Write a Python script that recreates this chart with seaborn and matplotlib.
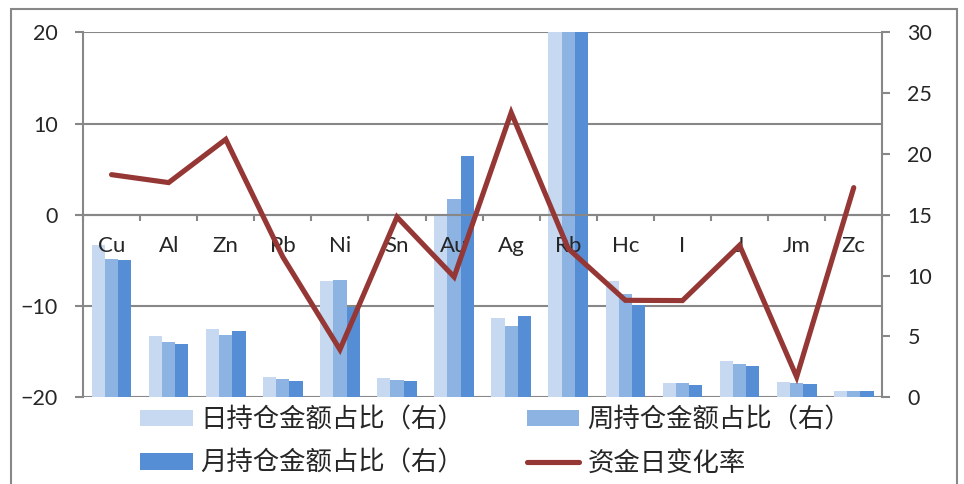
import numpy as np
import pandas as pd
import matplotlib
matplotlib.use("Agg")
import matplotlib.pyplot as plt
from matplotlib.patches import Patch, Rectangle
from matplotlib.lines import Line2D
import seaborn as sns

# ---- data ----
categories = ["Cu", "Al", "Zn", "Pb", "Ni", "Sn", "Au", "Ag", "Rb", "Hc", "I", "J", "Jm", "Zc"]
day_share = [12.55, 5.04, 5.64, 1.70, 9.53, 1.56, 14.95, 6.49, 32.0, 9.53, 1.20, 2.96, 1.26, 0.52]
week_share = [11.37, 4.55, 5.09, 1.48, 9.64, 1.40, 16.27, 5.83, 32.0, 8.52, 1.20, 2.71, 1.18, 0.49]
month_share = [11.26, 4.41, 5.45, 1.31, 7.42, 1.31, 19.83, 6.71, 32.0, 7.56, 1.04, 2.58, 1.10, 0.49]
flow_change = [4.40, 3.53, 8.27, -4.62, -14.77, -0.24, -6.81, 11.20, -3.71, -9.37, -9.40, -3.34, -17.77, 2.98]

series_names = ["日持仓金额占比（右）", "周持仓金额占比（右）", "月持仓金额占比（右）"]
line_name = "资金日变化率"
bar_colors = ["#C6D9F1", "#8DB3E2", "#558ED5"]
line_color = "#953735"
grid_color = "#878787"

left_ticks = [-20, -10, 0, 10, 20]
right_ticks = [0, 5, 10, 15, 20, 25, 30]

df = pd.DataFrame({
    "cat": categories * 3,
    "series": sum([[s] * len(categories) for s in series_names], []),
    "val": day_share + week_share + month_share,
})

sns.set_style("white")
plt.rcParams["font.family"] = ["Lato", "DejaVu Sans"]

fig = plt.figure(figsize=(9.64, 4.84), dpi=100)
ax = fig.add_axes([83 / 964, 1 - 397.3 / 484, (882.3 - 83) / 964, (397.3 - 32.3) / 484])

# bars on right-scale axes
sns.barplot(data=df, x="cat", y="val", hue="series", order=categories, hue_order=series_names,
            palette=bar_colors, saturation=1, width=0.695, gap=0, linewidth=0, edgecolor="none",
            legend=False, ax=ax, zorder=3)
n = len(categories)
ax.set_xlim(-0.5, n - 0.5)
ax.set_ylim(right_ticks[0], right_ticks[-1])
ax.set_yticks(right_ticks)
ax.yaxis.tick_right()
ax.set_xlabel("")
ax.set_ylabel("")

# gridlines at left-axis major ticks, mapped onto right scale
lmin, lmax = left_ticks[0], left_ticks[-1]
rmin, rmax = right_ticks[0], right_ticks[-1]
for v in left_ticks:
    ax.axhline(rmin + (v - lmin) / (lmax - lmin) * (rmax - rmin), color=grid_color, lw=1.5, zorder=1)

# line on left-scale axes
ax2 = ax.twinx()
ax2.xaxis.set_visible(True)
sns.lineplot(x=np.arange(n), y=flow_change, ax=ax2, color=line_color, lw=3.7, zorder=5)
ax2.lines[-1].set_solid_joinstyle("miter")
ax2.set_ylim(lmin, lmax)
ax2.set_yticks(left_ticks)
ax2.yaxis.tick_left()
ax2.set_xlim(-0.5, n - 0.5)

for a in (ax, ax2):
    for s in a.spines.values():
        s.set_visible(False)
ax.spines["left"].set_visible(True)
ax.spines["right"].set_visible(True)
for s in ("left", "right"):
    ax.spines[s].set_color(grid_color)
    ax.spines[s].set_linewidth(1.5)

ax2.spines["bottom"].set_visible(True)
ax2.spines["bottom"].set_position(("data", 0))
ax2.spines["bottom"].set_color(grid_color)
ax2.spines["bottom"].set_linewidth(1.5)

# category ticks: boundaries (major) + labels at centers (minor)
ax2.set_xticks(np.arange(n + 1) - 0.5)
ax2.set_xticklabels([""] * (n + 1))
ax2.set_xticks(np.arange(n), minor=True)
ax2.set_xticklabels(categories, minor=True)
ax2.tick_params(axis="x", which="major", direction="out", length=4.5, width=1.5, color=grid_color,
                bottom=True, labelbottom=True)
ax2.tick_params(axis="x", which="minor", length=0, pad=15.5, labelsize=16, bottom=True, labelbottom=True)
ax.tick_params(axis="x", which="both", bottom=False, labelbottom=False)

ax.tick_params(axis="y", which="major", direction="out", length=6, width=1.5, color=grid_color,
               pad=12, labelsize=15.5, right=True, left=False, labelright=True, labelleft=False)
ax2.tick_params(axis="y", which="major", direction="out", length=6, width=1.5, color=grid_color,
                pad=12, labelsize=15.5, left=True, right=False, labelleft=True, labelright=False)
ax2.set_ylabel("")

# legend
handles = [Patch(facecolor=bar_colors[0], edgecolor="none"),
           Patch(facecolor=bar_colors[2], edgecolor="none"),
           Patch(facecolor=bar_colors[1], edgecolor="none"),
           Line2D([0], [0], color=line_color, lw=3.7)]
labels = [series_names[0], series_names[2], series_names[1], line_name]
fig.legend(handles, labels, ncol=2, loc="center", bbox_to_anchor=(495.5 / 964, 1 - 441.5 / 484),
           frameon=False, prop={"family": ["Noto Sans CJK SC", "DejaVu Sans"], "size": 19},
           handlelength=2.0, handleheight=0.6, handletextpad=0.3, columnspacing=2.36,
           labelspacing=0.62, borderpad=0, borderaxespad=0)

# outer chart border
fig.patches.append(Rectangle((11 / 964, -0.05), (956.5 - 11) / 964, 1.05 - 9 / 484,
                             transform=fig.transFigure, fill=False, edgecolor=grid_color, lw=1.5))

fig.savefig("out.png", dpi=100)
